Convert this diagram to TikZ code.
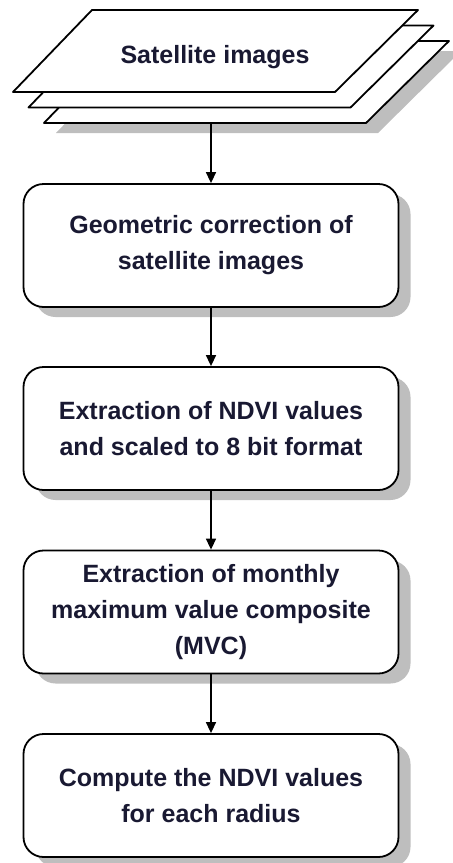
\documentclass[tikz,border=0pt]{standalone}
\usepackage{fontspec}
\setmainfont{Liberation Sans}
\usetikzlibrary{arrows.meta,shadows}
\definecolor{text_navy}{RGB}{25,25,50}
\definecolor{shadow_gray}{RGB}{190,190,190}
\begin{document}
\begin{tikzpicture}[x=0.5pt, y=-0.5pt, >={Triangle[width=5pt,length=5.5pt]}]
    \tikzstyle{box_style}=[rectangle, draw, rounded corners=10pt, fill=white, line width=0.9pt, minimum width=187.5pt, minimum height=61.5pt, align=center, text=text_navy, font=\fontsize{12.5}{18}\selectfont\bfseries, execute at begin node={\rule{0pt}{14pt}}, drop shadow={shadow xshift=6pt, shadow yshift=-5pt, fill=shadow_gray, opacity=1}]
    \tikzstyle{sheet_style}=[draw, fill=white, line width=0.9pt, line join=round]
    \tikzstyle{arrow_style}=[->, line width=0.75pt]

    \useasboundingbox (0,0) rectangle (452,863);

    % satellite image sheets
    \fill[shadow_gray] (56,133) -- (378,133) -- (461,51) -- (135,51) -- cycle;
    \foreach \k in {2,1,0}
      \draw[sheet_style, shift={(15.5*\k,15.5*\k)}] (13,92) -- (335,92) -- (418,10) -- (92,10) -- cycle;
    \draw node at (215,57) [text=text_navy, font=\fontsize{12.5}{18}\selectfont\bfseries] (sheet_text) {Satellite images};
    \coordinate (sheet_bottom) at (211,123);

    % process boxes
    \draw node at (211,245.5) [box_style] (box_geometric) {Geometric correction of\\satellite images};
    \draw node at (211,428.5) [box_style] (box_ndvi) {Extraction of NDVI values\\and scaled to 8 bit format};
    \draw node at (211,612) [box_style] (box_mvc) {Extraction of monthly\\maximum value composite\\(MVC)};
    \draw node at (211,795.5) [box_style] (box_radius) {Compute the NDVI values\\for each radius};

    % connect: sheets -> boxes
    \path[arrow_style] (sheet_bottom) edge node[] {} (box_geometric);
    \path[arrow_style] (box_geometric) edge node[] {} (box_ndvi);
    \path[arrow_style] (box_ndvi) edge node[] {} (box_mvc);
    \path[arrow_style] (box_mvc) edge node[] {} (box_radius);
\end{tikzpicture}
\end{document}
